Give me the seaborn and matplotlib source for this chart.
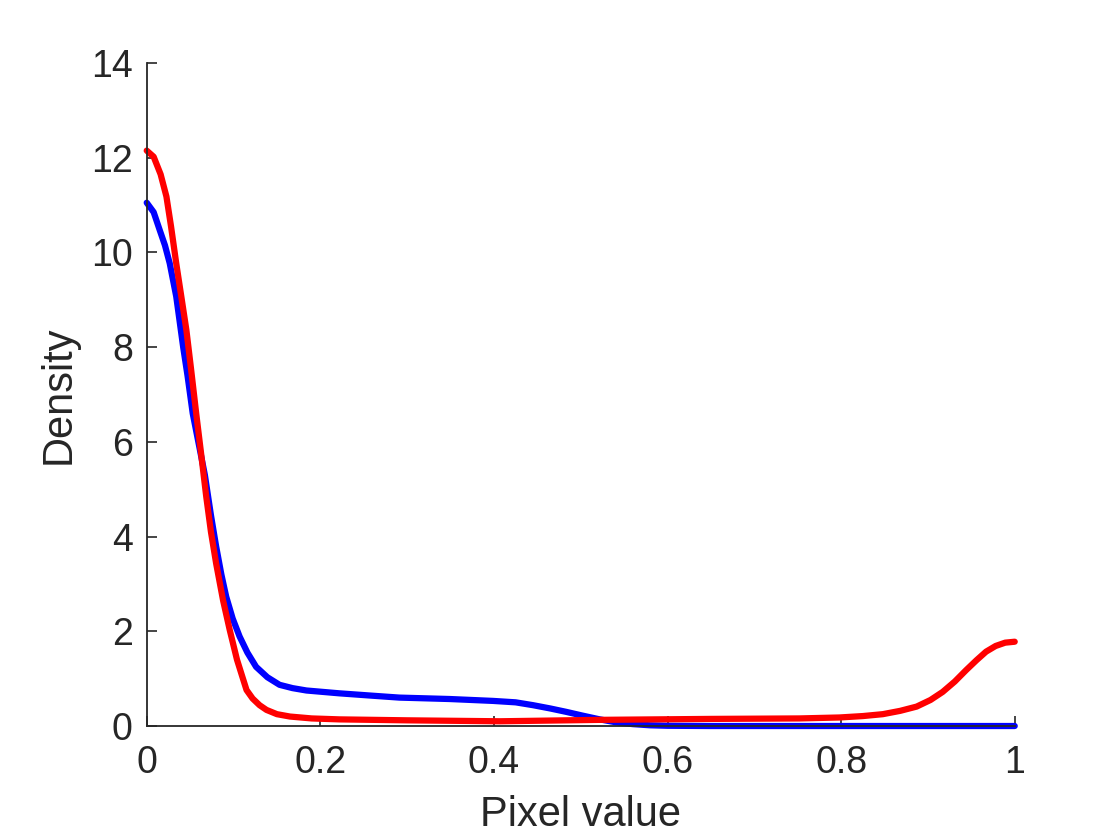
import matplotlib
matplotlib.use("Agg")
import matplotlib.pyplot as plt
import pandas as pd
import seaborn as sns

# ---- data (pixel value vs density) ----
blue_x = [0.0, 0.008, 0.015, 0.021, 0.0265, 0.034, 0.042, 0.047, 0.053, 0.06,
          0.067, 0.074, 0.08, 0.086, 0.0916, 0.099, 0.107, 0.116, 0.126, 0.139,
          0.153, 0.168, 0.184, 0.222, 0.26, 0.291, 0.349, 0.399, 0.425, 0.445,
          0.465, 0.483, 0.502, 0.522, 0.54, 0.56, 0.58, 0.6, 0.65, 0.8, 1.0]
blue_y = [11.05, 10.85, 10.47, 10.15, 9.77, 9.07, 8.0, 7.4, 6.6, 5.95,
          5.3, 4.45, 3.79, 3.2, 2.73, 2.27, 1.89, 1.55, 1.25, 1.03,
          0.87, 0.8, 0.75, 0.69, 0.64, 0.60, 0.57, 0.53, 0.5, 0.44,
          0.37, 0.30, 0.22, 0.14, 0.08, 0.04, 0.015, 0.005, 0.0, 0.0, 0.0]

red_x = [0.0, 0.008, 0.016, 0.0227, 0.028, 0.034, 0.04, 0.0457, 0.051, 0.057,
         0.063, 0.0686, 0.074, 0.08, 0.088, 0.0956, 0.104, 0.11, 0.115, 0.122,
         0.13, 0.138, 0.15, 0.165, 0.19, 0.222, 0.3, 0.407, 0.522, 0.65,
         0.752, 0.798, 0.825, 0.848, 0.868, 0.887, 0.903, 0.917, 0.931, 0.944,
         0.956, 0.967, 0.978, 0.989, 1.0]
red_y = [12.15, 12.02, 11.65, 11.18, 10.55, 9.77, 9.05, 8.36, 7.55, 6.6,
         5.7, 4.84, 4.1, 3.43, 2.65, 2.03, 1.4, 1.05, 0.76, 0.58,
         0.44, 0.34, 0.25, 0.2, 0.16, 0.14, 0.12, 0.1, 0.13, 0.15,
         0.16, 0.18, 0.21, 0.25, 0.32, 0.41, 0.55, 0.72, 0.94, 1.18,
         1.39, 1.57, 1.69, 1.76, 1.78]

df = pd.concat([
    pd.DataFrame({"x": blue_x, "y": blue_y, "s": "blue"}),
    pd.DataFrame({"x": red_x, "y": red_y, "s": "red"}),
])

sns.set_style("white")
plt.rcParams["font.family"] = ["Liberation Sans", "DejaVu Sans"]

ink = "#262626"
fig = plt.figure(figsize=(11.2, 8.4), dpi=100)
ax = fig.add_axes([0.131, 0.1357, 0.775, 0.7893])

sns.lineplot(data=df, x="x", y="y", hue="s", palette={"blue": "#0000ff", "red": "#ff0000"},
             linewidth=4.5, legend=False, ax=ax, sort=False, estimator=None)
for line in ax.lines:
    line.set_clip_on(False)
    line.set_solid_joinstyle("round")

ax.set_xlim(0, 1)
ax.set_ylim(0, 14)
ax.set_xticks([0, 0.2, 0.4, 0.6, 0.8, 1])
ax.set_xticklabels(["0", "0.2", "0.4", "0.6", "0.8", "1"])
ax.set_yticks(range(0, 15, 2))

ax.set_xlabel("Pixel value", fontsize=30, color=ink, labelpad=10)
ax.set_ylabel("Density", fontsize=30, color=ink, labelpad=9)
ax.tick_params(bottom=True, left=True, direction="in", length=7, width=1.2,
               colors=ink, labelsize=27)
ax.tick_params(axis="x", pad=14)
ax.tick_params(axis="y", pad=10)

for side in ["top", "right"]:
    ax.spines[side].set_visible(False)
for side in ["left", "bottom"]:
    ax.spines[side].set_color(ink)
    ax.spines[side].set_linewidth(1.3)

fig.savefig("out.png", dpi=100)
